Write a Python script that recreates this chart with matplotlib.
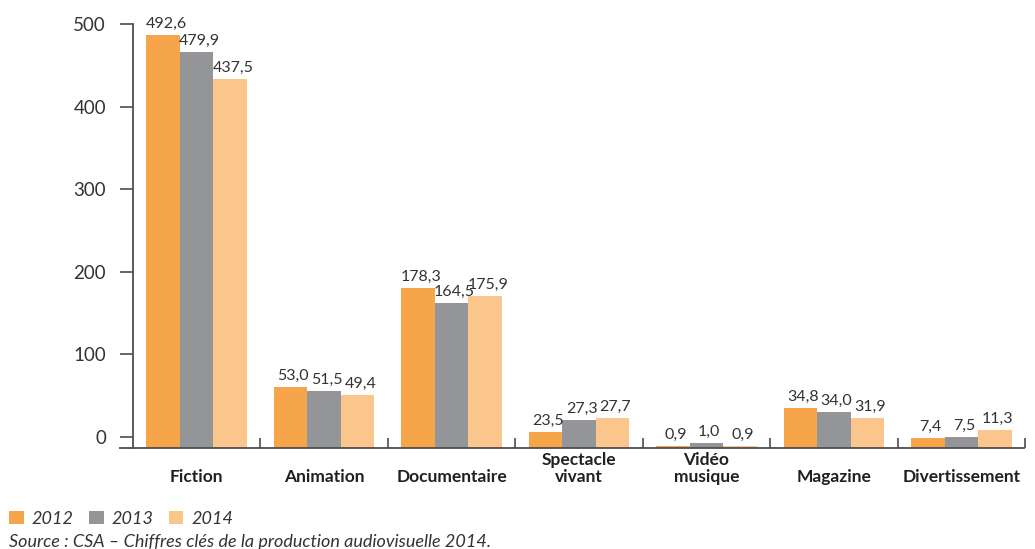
import numpy as np
import matplotlib.pyplot as plt

# Categories and values (bar tops, labels as printed)
categories = ["Fiction", "Animation", "Documentaire", "Spectacle\nvivant",
              "Vidéo\nmusique", "Magazine", "Divertissement"]
years = ["2012", "2013", "2014"]
tops_2012 = [487.4, 60.4, 180.0, 5.8, -11.2, 34.9, -1.1]
tops_2013 = [466.4, 55.5, 162.5, 20.4, -7.5, 30.1, 0.1]
tops_2014 = [433.7, 50.7, 170.7, 22.8, -11.2, 22.8, 8.2]
labels_2012 = ["492,6", "53,0", "178,3", "23,5", "0,9", "34,8", "7,4"]
labels_2013 = ["479,9", "51,5", "164,5", "27,3", "1,0", "34,0", "7,5"]
labels_2014 = ["437,5", "49,4", "175,9", "27,7", "0,9", "31,9", "11,3"]
yticks = [0, 100, 200, 300, 400, 500]
source = "Source : CSA \u2013 Chiffres clés de la production audiovisuelle 2014."

colors = ["#F7A54A", "#939598", "#FBC68B"]
axis_col = "#4D4D4F"
text_col = "#333333"
floor = -13.2  # the baseline sits a little under the 0 tick

plt.rcParams['font.family'] = ['Lato', 'DejaVu Sans']

fig = plt.figure(figsize=(10.35, 5.49), dpi=100)
ax = fig.add_axes([133 / 1035, 101.3 / 549, 892 / 1035, 423.4 / 549])

x = np.arange(len(categories))
w = 0.263
series = [tops_2012, tops_2013, tops_2014]
labels = [labels_2012, labels_2013, labels_2014]
for i, (top, lab) in enumerate(zip(series, labels)):
    pos = x + (i - 1) * w
    top = np.array(top)
    ax.bar(pos, top - floor, bottom=floor, width=w, color=colors[i],
           linewidth=0, label=years[i])
    for xp, yv, t in zip(pos, top, lab):
        ax.annotate(t, (xp, yv), xytext=(2, 5), textcoords="offset points",
                    ha="center", va="baseline", fontsize=11.5, color=text_col)

ax.set_xlim(-0.5, len(categories) - 0.5)
ax.set_ylim(floor, 500)
ax.set_yticks(yticks)
ax.set_yticklabels([str(v) for v in yticks])
ax.tick_params(axis="y", length=9.5, width=1.2, color=axis_col, pad=10,
               labelsize=13.5, labelcolor=text_col)

# separator ticks on the baseline
ax.set_xticks(np.arange(1, len(categories) + 1) - 0.5)
ax.set_xticklabels([])
ax.tick_params(axis="x", direction="in", length=7.5, width=1.2, color=axis_col)

for s in ["top", "right", "bottom"]:
    ax.spines[s].set_visible(False)
ax.spines["left"].set_color(axis_col)
ax.spines["left"].set_linewidth(1.3)
ax.plot([-0.5 - 14 / 127.4, len(categories) - 0.5], [floor, floor],
        color=axis_col, lw=1.3, clip_on=False, solid_capstyle="butt")

# category labels under each group
for xp, c in zip(x, categories):
    ax.text(xp, -34 / 423.4, c, transform=ax.get_xaxis_transform(),
            ha="center", va="baseline", fontsize=12.5, fontweight="bold",
            color="#231F20", linespacing=1.05)

# legend along the bottom left
leg = fig.legend(loc="lower left", bbox_to_anchor=(9 / 1035, 22 / 549), ncol=3,
                 frameon=False, handlelength=0.81, handleheight=0.76,
                 handletextpad=0.43, columnspacing=0.86, borderaxespad=0,
                 borderpad=0, prop={"family": "Lato", "size": 13, "style": "italic"})
for t in leg.get_texts():
    t.set_color(text_col)

fig.text(9 / 1035, 1.5 / 549, source, ha="left", va="baseline", fontsize=13,
         style="italic", color=text_col)

fig.savefig("out.png", dpi=100)
